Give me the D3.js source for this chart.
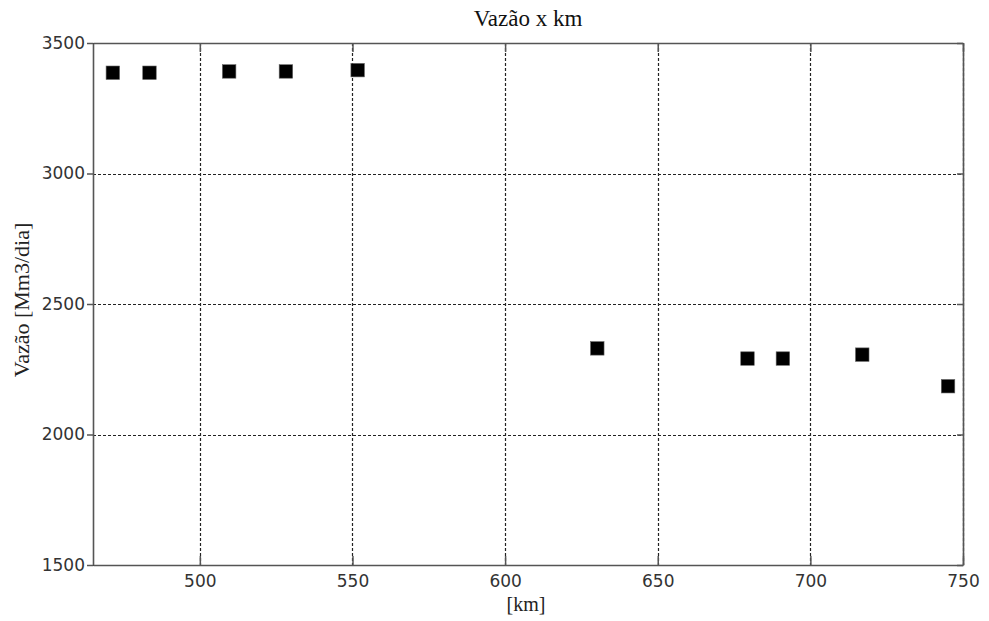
<!DOCTYPE html>
<html><head><meta charset="utf-8">
<script src="https://cdn.jsdelivr.net/npm/d3@7"></script>
<style>body{margin:0;background:#fff}svg{display:block}</style>
</head><body>
<svg id="c" width="989" height="621"></svg>
<script>
const kmValues = [471.5, 483.5, 509.6, 528.2, 551.7, 630.2, 679.4, 691.0, 717.0, 745.1];
const flowValues = [3386, 3386, 3391, 3391, 3396, 2330, 2291, 2291, 2306, 2185];
const xTicks = [500, 550, 600, 650, 700, 750];
const yTicks = [1500, 2000, 2500, 3000, 3500];
const chartTitle = "Vazão x km";
const xLabel = "[km]";
const yLabel = "Vazão [Mm3/dia]";

(function () {
const svg = d3.select("#c");
const m = {l: 93, t: 43, r: 963, b: 565};
const x = d3.scaleLinear().domain([465, 750]).range([m.l, m.r]);
const y = d3.scaleLinear().domain([1500, 3500]).range([m.b, m.t]);
const gridCol = "#222", axisCol = "#555";

// grid
const g = svg.append("g");
g.selectAll(".vg").data(xTicks).join("line")
  .attr("x1", d => Math.round(x(d)) + 0.5).attr("x2", d => Math.round(x(d)) + 0.5)
  .attr("y1", m.t).attr("y2", m.b)
  .attr("stroke", gridCol).attr("stroke-dasharray", "3,2").attr("stroke-width", 1.2);
g.selectAll(".hg").data(yTicks).join("line")
  .attr("y1", d => Math.round(y(d)) + 0.5).attr("y2", d => Math.round(y(d)) + 0.5)
  .attr("x1", m.l).attr("x2", m.r)
  .attr("stroke", gridCol).attr("stroke-dasharray", "3,2").attr("stroke-width", 1.2);

// axes
const fontTick = "'DejaVu Sans', sans-serif";
const fmt = d3.format("d");
const axB = svg.append("g").attr("transform", `translate(0,${m.b})`)
  .call(d3.axisBottom(x).tickValues(xTicks).tickFormat(fmt).tickSize(-9).tickPadding(10).tickSizeOuter(0));
const axL = svg.append("g").attr("transform", `translate(${m.l},0)`)
  .call(d3.axisLeft(y).tickValues(yTicks).tickFormat(fmt).tickSize(6).tickPadding(2).tickSizeOuter(0));
const axT = svg.append("g").attr("transform", `translate(0,${m.t})`)
  .call(d3.axisTop(x).tickValues(xTicks).tickSize(-9).tickFormat("").tickSizeOuter(0));
const axR = svg.append("g").attr("transform", `translate(${m.r},0)`)
  .call(d3.axisRight(y).tickValues(yTicks).tickSize(-6).tickFormat("").tickSizeOuter(0));
[axB, axL, axT, axR].forEach(a => {
  a.attr("font-size", 17).attr("font-family", fontTick);
  a.selectAll("path").attr("stroke", axisCol).attr("stroke-width", 1.6);
  a.selectAll("line").attr("stroke", axisCol).attr("stroke-width", 1.5);
  a.selectAll("text").attr("fill", "#333").style("font-family", fontTick).style("font-size", "17px");
});

// markers
const s = 13.5;
svg.append("g").selectAll("rect").data(kmValues.map((k, i) => [k, flowValues[i]])).join("rect")
  .attr("x", d => x(d[0]) - s / 2).attr("y", d => y(d[1]) - s / 2)
  .attr("width", s).attr("height", s).attr("fill", "#000")
  .attr("stroke", "#666").attr("stroke-width", 0.6);

// texts
const serif = "'Liberation Serif', 'Times New Roman', serif";
svg.append("text").attr("x", (m.l + m.r) / 2).attr("y", 26).attr("text-anchor", "middle")
  .style("font-family", serif).style("font-size", "23px").attr("fill", "#111").text(chartTitle);
svg.append("text").attr("x", (m.l + m.r) / 2 - 2).attr("y", 611).attr("text-anchor", "middle")
  .style("font-family", serif).style("font-size", "20px").attr("fill", "#222").text(xLabel);
svg.append("text").attr("transform", `translate(29,300) rotate(-90)`)
  .attr("text-anchor", "middle")
  .style("font-family", serif).style("font-size", "22px").attr("fill", "#222").text(yLabel);
})();
</script>
</body></html>
